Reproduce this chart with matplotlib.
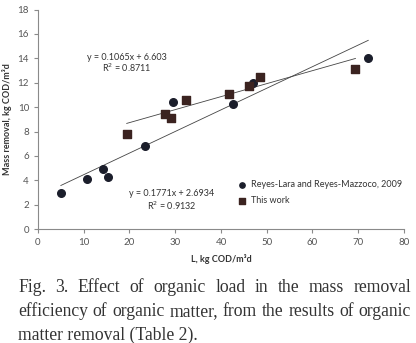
import matplotlib
matplotlib.use("Agg")
import matplotlib.pyplot as plt
import numpy as np

plt.rcParams["font.family"] = ["Lato", "DejaVu Sans"]

# data
lit_x = [5.0, 10.7, 14.2, 15.4, 23.5, 29.6, 42.7, 47.1, 72.2]
lit_y = [2.95, 4.15, 4.9, 4.3, 6.85, 10.45, 10.25, 12.0, 14.07]
this_x = [19.4, 27.8, 29.1, 32.3, 41.7, 46.2, 48.6, 69.4]
this_y = [7.8, 9.4, 9.1, 10.57, 11.1, 11.75, 12.46, 13.1]

lit_fit = (0.1771, 2.6934)
this_fit = (0.1065, 6.603)

caption_lines = [
    "Fig. 3. Effect of organic load in the mass removal",
    "efficiency of organic matter, from the results of organic",
    "matter removal (Table 2).",
]

fig = plt.figure(figsize=(4.16, 3.43), dpi=100)
ax = fig.add_axes([0.0913, 0.332, 0.8797, 0.640])

gray = "#8a8a8a"
ax.scatter(lit_x, lit_y, marker="o", s=30, color="#1b1e2b", zorder=3,
           label="Reyes-Lara and Reyes-Mazzoco, 2009")
ax.scatter(this_x, this_y, marker="s", s=30, color="#3b2320", zorder=3,
           label="This work")

xl = np.array([min(lit_x), max(lit_x)])
ax.plot(xl, lit_fit[0] * xl + lit_fit[1], color="#444444", lw=0.6)
xt = np.array([min(this_x), max(this_x)])
ax.plot(xt, this_fit[0] * xt + this_fit[1], color="#444444", lw=0.6)

ax.text(19.5, 13.9, "y = 0.1065x + 6.603", fontsize=6.5, ha="center", color="#333333")
ax.text(19.5, 12.85, "R$^2$ = 0.8711", fontsize=6.5, ha="center", color="#333333")
ax.text(29.2, 2.75, "y = 0.1771x + 2.6934", fontsize=6.5, ha="center", color="#333333")
ax.text(29.2, 1.6, "R$^2$ = 0.9132", fontsize=6.5, ha="center", color="#333333")

ax.legend(loc="lower left", bbox_to_anchor=(0.515, 0.08), frameon=False,
          fontsize=6.5, handletextpad=0.0, markerscale=0.7,
          labelspacing=0.8, borderpad=0.2, labelcolor="#333333")

ax.set_xlim(0, 80)
ax.set_ylim(0, 18)
ax.set_xticks(range(0, 81, 10))
ax.set_yticks(range(0, 19, 2))
for s in ["top", "right"]:
    ax.spines[s].set_visible(False)
for s in ["left", "bottom"]:
    ax.spines[s].set_color(gray)
    ax.spines[s].set_linewidth(0.8)
ax.tick_params(colors=gray, labelcolor="#555555", labelsize=7, length=3, width=0.8)

ax.set_xlabel("L, kg COD/m³d", fontsize=6.5, fontweight="bold", color="#333333", labelpad=5)
ax.set_ylabel("Mass removal, kg COD/m³d", fontsize=6.5, fontweight="bold", color="#333333", labelpad=4)

# caption, justified like in the paper (last line left-aligned)
cap_kw = dict(fontsize=12.7, family="Liberation Serif", color="#333333", va="baseline")
left_px, right_px = 18, 411
baselines = [292, 316, 340]
renderer = fig.canvas.get_renderer()
for i, line in enumerate(caption_lines):
    y = 1 - baselines[i] / 343
    if i == len(caption_lines) - 1:
        fig.text(left_px / 416, y, line, ha="left", **cap_kw)
        continue
    words = line.split()
    arts = [fig.text(0, y, w, ha="left", **cap_kw) for w in words]
    widths = [a.get_window_extent(renderer).width for a in arts]
    gap = (right_px - left_px - sum(widths)) / (len(words) - 1)
    x = left_px
    for a, w in zip(arts, widths):
        a.set_x(x / 416)
        x += w + gap

fig.savefig("out.png", dpi=100)
